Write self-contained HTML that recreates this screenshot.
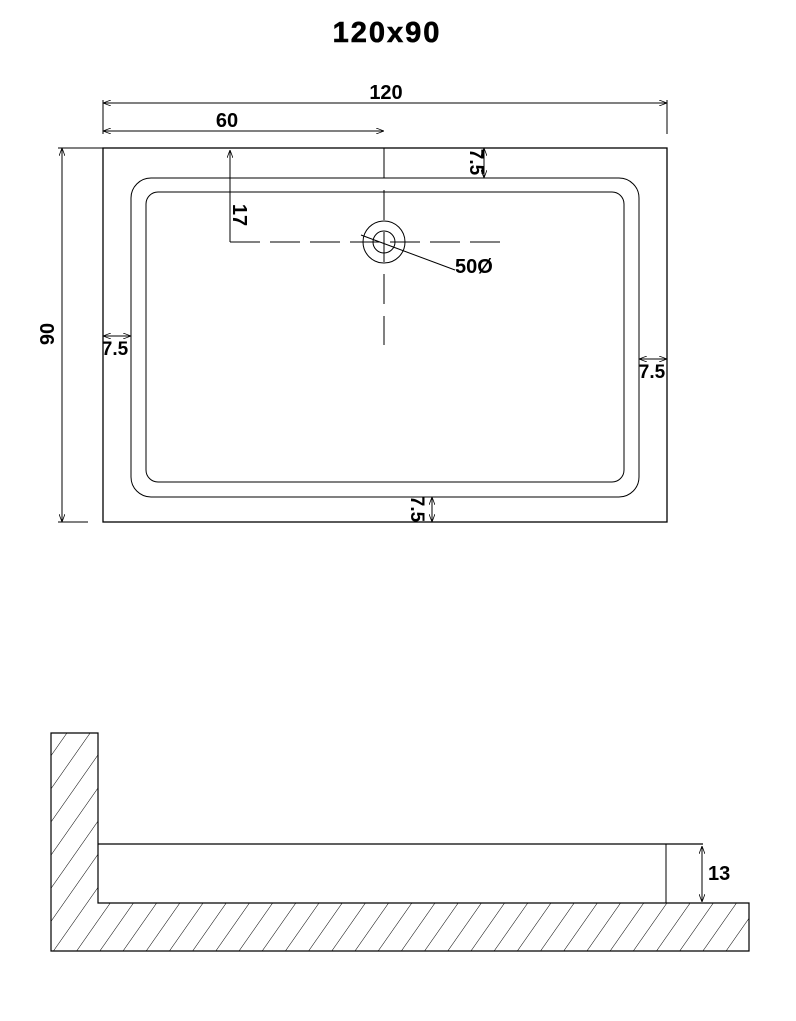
<!DOCTYPE html>
<html><head><meta charset="utf-8"><style>
html,body{margin:0;padding:0;background:#fff;}
svg{display:block;}
text{font-family:"Liberation Sans",sans-serif;font-weight:bold;fill:#000;}
</style></head><body>
<svg width="796" height="1021" viewBox="0 0 796 1021" xmlns="http://www.w3.org/2000/svg">
<defs>
<pattern id="h" patternUnits="userSpaceOnUse" width="19" height="19" patternTransform="rotate(35)">
<line x1="0" y1="0" x2="0" y2="19" stroke="#000" stroke-width="1"/>
</pattern>
<marker id="a" markerWidth="8" markerHeight="6" refX="8" refY="3" orient="auto-start-reverse" markerUnits="userSpaceOnUse">
<path d="M0,0 L8,3 L0,6" fill="none" stroke="#000" stroke-width="0.8"/>
</marker>
</defs>
<text x="387" y="42" font-size="29" text-anchor="middle" stroke="#000" stroke-width="0.6" letter-spacing="2">120x90</text>

<g stroke="#000" fill="none" stroke-width="1">
<line x1="103" y1="103" x2="667" y2="103" marker-start="url(#a)" marker-end="url(#a)"/>
<line x1="103" y1="100" x2="103" y2="134"/>
<line x1="667" y1="100" x2="667" y2="134"/>
<line x1="103" y1="131" x2="384" y2="131" marker-start="url(#a)" marker-end="url(#a)"/>
<line x1="62" y1="148" x2="62" y2="522" marker-start="url(#a)" marker-end="url(#a)"/>
<line x1="58" y1="148" x2="103" y2="148"/>
<line x1="58" y1="522" x2="88" y2="522"/>
<rect x="103" y="148" width="564" height="374" stroke-width="1.3"/>
<rect x="131" y="178" width="508" height="319" rx="20"/>
<rect x="146" y="192" width="478" height="290" rx="12"/>
<line x1="384" y1="148" x2="384" y2="345" stroke-dasharray="30,6,0,6"/>
<line x1="230" y1="242" x2="510" y2="242" stroke-dasharray="30,10"/>
<line x1="230" y1="150" x2="230" y2="242" marker-start="url(#a)"/>
<circle cx="384" cy="242" r="21"/>
<circle cx="384" cy="242" r="11"/>
<line x1="361" y1="235" x2="455" y2="270"/>
<line x1="484" y1="148" x2="484" y2="178" marker-start="url(#a)" marker-end="url(#a)"/>
<line x1="103" y1="336" x2="131" y2="336" marker-start="url(#a)" marker-end="url(#a)"/>
<line x1="639" y1="359" x2="667" y2="359" marker-start="url(#a)" marker-end="url(#a)"/>
<line x1="432" y1="497" x2="432" y2="522" marker-start="url(#a)" marker-end="url(#a)"/>
</g>
<text x="386" y="99" font-size="20" text-anchor="middle">120</text>
<text x="227" y="127" font-size="20" text-anchor="middle">60</text>
<text transform="translate(54,334) rotate(-90)" font-size="20" text-anchor="middle">90</text>
<text transform="translate(233,215) rotate(90)" font-size="20" text-anchor="middle">17</text>
<text x="455" y="273" font-size="20">50Ø</text>
<text transform="translate(470,162) rotate(90)" font-size="19" text-anchor="middle">7.5</text>
<text x="115" y="355" font-size="19" text-anchor="middle">7.5</text>
<text x="652" y="378" font-size="19" text-anchor="middle">7.5</text>
<text transform="translate(411,509) rotate(90)" font-size="19" text-anchor="middle">7.5</text>

<path d="M51,733 L98,733 L98,903 L749,903 L749,951 L51,951 Z" fill="url(#h)" stroke="#000" stroke-width="1.2"/>
<g stroke="#000" fill="none" stroke-width="1">
<line x1="98" y1="844" x2="703" y2="844" stroke-width="1.3"/>
<line x1="666" y1="844" x2="666" y2="903"/>
<line x1="702" y1="846" x2="702" y2="902" marker-start="url(#a)" marker-end="url(#a)"/>
</g>
<text x="708" y="880" font-size="20">13</text>
</svg>
</body></html>
